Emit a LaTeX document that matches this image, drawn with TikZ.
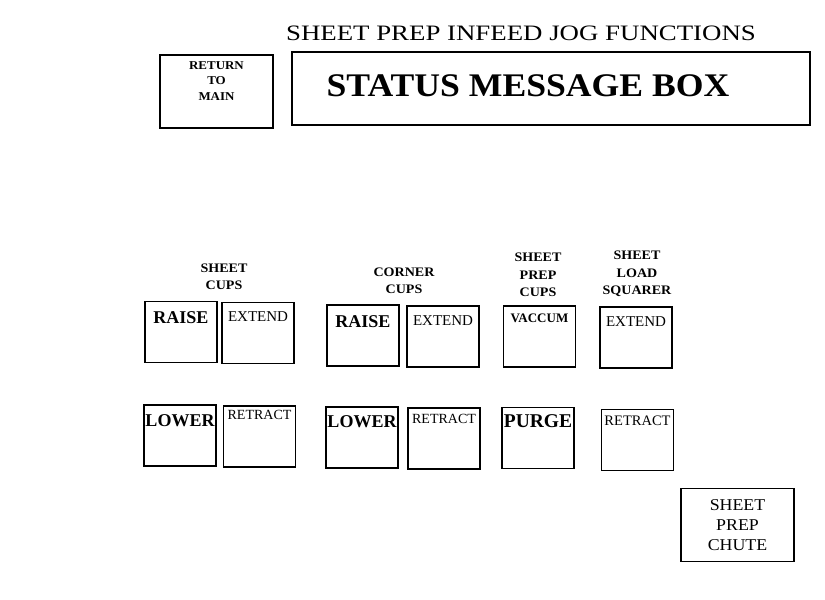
\documentclass[tikz,border=0pt]{standalone}
\usepackage{fontspec}
\setmainfont{Liberation Serif}
\newfontfamily\titlefont[FakeStretch=1.22]{Liberation Serif}
\newfontfamily\widefont[FakeStretch=1.08]{Liberation Serif}
\usetikzlibrary{positioning}

\begin{document}
\begin{tikzpicture}[x=1pt,y=-1pt,
        every node/.style={align=center,inner sep=0},
        btn/.style={draw,line width=1.4pt,minimum width=72pt,minimum height=61pt},
        bigbox/.style={draw,line width=1.2pt,minimum width=113pt,minimum height=73pt},
        grp/.style={font=\widefont\fontsize{13}{17.5}\selectfont\bfseries},
        ]
\useasboundingbox (0,0) rectangle (825,600);

\node [font=\titlefont\fontsize{22}{26}\selectfont] (title) at (521,33) {SHEET PREP INFEED JOG FUNCTIONS};
\node [bigbox, font=\widefont\fontsize{12}{15.5}\selectfont\bfseries, text depth=21pt] (ret) at (216.5,91.5) {RETURN\\TO\\MAIN};
\node [draw, line width=1.2pt, minimum width=518pt, minimum height=73pt] (status) at (551,88.5) {};
\node [font=\widefont\fontsize{33}{36}\selectfont\bfseries] (statustext) at (528,86) {STATUS MESSAGE BOX};

% sheet cups
\node [grp] (gsheet) at (224,277) {SHEET\\CUPS};
\node [btn, label={[anchor=north,yshift=-11pt,font=\fontsize{18}{20}\selectfont\bfseries]north:RAISE}] (sraise) at (181,332) {};
\node [btn, label={[anchor=north,yshift=-10pt,font=\fontsize{15}{18}\selectfont]north:EXTEND}] (sext) at (258,333) {};
\node [btn, label={[anchor=north,yshift=-10pt,font=\fontsize{18}{20}\selectfont\bfseries]north:LOWER}] (slower) at (180,435.5) {};
\node [btn, label={[anchor=north,yshift=-5pt,font=\fontsize{14}{16}\selectfont]north:RETRACT}] (sretr) at (259.5,436.5) {};

% corner cups
\node [grp] (gcorner) at (404,281) {CORNER\\CUPS};
\node [btn, label={[anchor=north,yshift=-11pt,font=\fontsize{18}{20}\selectfont\bfseries]north:RAISE}] (craise) at (363,335.5) {};
\node [btn, label={[anchor=north,yshift=-10pt,font=\fontsize{15}{18}\selectfont]north:EXTEND}] (cext) at (443,336.5) {};
\node [btn, label={[anchor=north,yshift=-9pt,font=\fontsize{18}{20}\selectfont\bfseries]north:LOWER}] (clower) at (362,437.5) {};
\node [btn, label={[anchor=north,yshift=-7pt,font=\fontsize{14}{16}\selectfont]north:RETRACT}] (cretr) at (444,438.5) {};

% sheet prep cups
\node [grp] (gprep) at (538,275) {SHEET\\PREP\\CUPS};
\node [btn, label={[anchor=north,yshift=-8pt,font=\fontsize{13}{15}\selectfont\bfseries]north:VACCUM}] (pvac) at (539.5,336.5) {};
\node [btn, label={[anchor=north,yshift=-8pt,font=\fontsize{19.5}{21}\selectfont\bfseries]north:PURGE}] (ppurge) at (538,438) {};

% sheet load squarer
\node [grp] (gload) at (637,274) {SHEET\\LOAD\\SQUARER};
\node [btn, label={[anchor=north,yshift=-10pt,font=\fontsize{15}{18}\selectfont]north:EXTEND}] (lext) at (636,337.5) {};
\node [btn, label={[anchor=north,yshift=-7pt,font=\fontsize{14.5}{16}\selectfont]north:RETRACT}] (lretr) at (637.5,440) {};

\node [bigbox, font=\widefont\fontsize{16.5}{20}\selectfont] (chute) at (737.5,525) {SHEET\\PREP\\CHUTE};

\end{tikzpicture}
\end{document}
